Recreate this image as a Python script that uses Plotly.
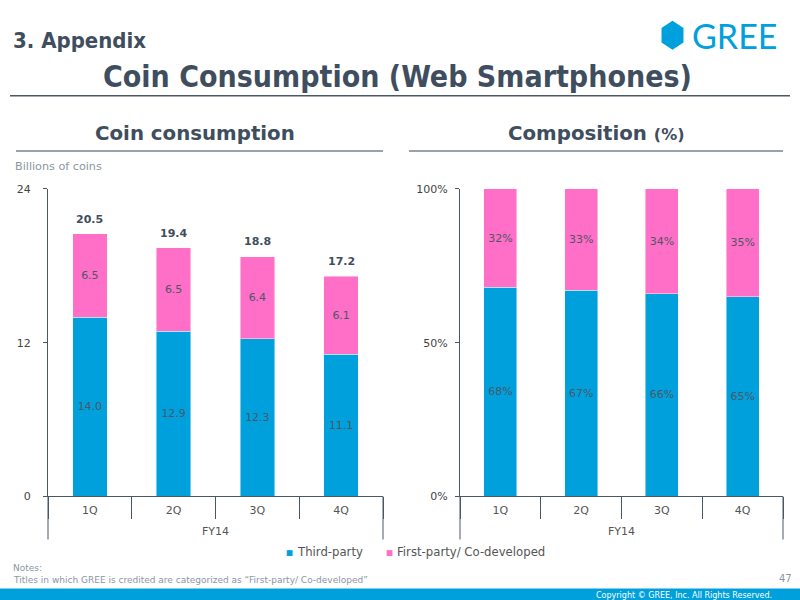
import plotly.graph_objects as go
import math

# ---- data ----
quarters = ["1Q", "2Q", "3Q", "4Q"]
fiscal_year = "FY14"
third_party = [14.0, 12.9, 12.3, 11.1]
first_party = [6.5, 6.5, 6.4, 6.1]
totals = [20.5, 19.4, 18.8, 17.2]
third_pct = [68, 67, 66, 65]
first_pct = [32, 33, 34, 35]
left_ticks = [0, 12, 24]
right_ticks = [0, 50, 100]
right_ticklabels = ["0%", "50%", "100%"]

# ---- style ----
W, H = 800, 614
BLUE = "#00A0DC"
PINK = "#FF6EC7"
DARK = "#3F4E5E"
GRAY = "#8A97A3"
AXIS = "#4A5866"
TXT = "#4B5866"
FONT = "DejaVu Sans, Verdana, sans-serif"
COND = "DejaVu Sans Condensed, DejaVu Sans, sans-serif"

# vertical calibration of the photographed page
Y_OFF, Y_SCALE = 5.25, 0.9775


def px(x):
    return x / W


def py(y):
    return 1 - ((y - Y_OFF) / Y_SCALE) / H


fig = go.Figure()
bar_line = dict(color="rgba(255,255,255,0.45)", width=1)
tfont = dict(family=FONT, size=11, color=TXT)
fig.add_trace(go.Bar(x=quarters, y=third_party, name="Third-party", marker=dict(color=BLUE, line=bar_line),
                     text=[f"{v:.1f}" for v in third_party], textposition="inside", insidetextanchor="middle",
                     textfont=tfont, xaxis="x", yaxis="y", showlegend=False))
fig.add_trace(go.Bar(x=quarters, y=first_party, name="First-party/ Co-developed", marker=dict(color=PINK, line=bar_line),
                     text=[f"{v:.1f}" for v in first_party], textposition="inside", insidetextanchor="middle",
                     textfont=tfont, xaxis="x", yaxis="y", showlegend=False))
fig.add_trace(go.Bar(x=quarters, y=third_pct, name="Third-party", marker=dict(color=BLUE, line=bar_line),
                     text=[f"{v}%" for v in third_pct], textposition="inside", insidetextanchor="middle",
                     textfont=tfont, xaxis="x2", yaxis="y2", showlegend=False))
fig.add_trace(go.Bar(x=quarters, y=first_pct, name="First-party/ Co-developed", marker=dict(color=PINK, line=bar_line),
                     text=[f"{v}%" for v in first_pct], textposition="inside", insidetextanchor="middle",
                     textfont=tfont, xaxis="x2", yaxis="y2", showlegend=False))

xaxis_common = dict(type="category", showline=True, linecolor=AXIS, linewidth=1,
                    ticks="outside", tickson="boundaries", ticklen=21.5, tickcolor=AXIS, tickwidth=1,
                    ticklabelstandoff=3,
                    tickfont=dict(family=FONT, size=11, color="#555555"), showgrid=False, zeroline=False, fixedrange=True)

ydom = [py(495), py(188)]
fig.update_layout(
    width=W, height=H, margin=dict(l=0, r=0, t=0, b=0),
    paper_bgcolor="white", plot_bgcolor="white",
    barmode="stack", bargap=0.59, showlegend=False,
    font=dict(family=FONT),
    xaxis=dict(domain=[px(48), px(383)], **xaxis_common),
    yaxis=dict(domain=ydom, range=[0, 24], tickvals=left_ticks, showline=True, linecolor=AXIS, linewidth=1,
               ticks="outside", ticklen=4, tickcolor=AXIS, ticklabelstandoff=10, showgrid=False, zeroline=False,
               tickfont=dict(family=FONT, size=11, color="#444444"), fixedrange=True),
    xaxis2=dict(domain=[px(460), px(783)], anchor="y2", **xaxis_common),
    yaxis2=dict(domain=ydom, range=[0, 100], tickvals=right_ticks, ticktext=right_ticklabels, anchor="x2",
                showline=True, linecolor=AXIS, linewidth=1, ticks="outside", ticklen=4, tickcolor=AXIS,
                ticklabelstandoff=5, showgrid=False, zeroline=False,
                tickfont=dict(family=FONT, size=11, color="#444444"), fixedrange=True),
)

ann = []
for i, t in enumerate(totals):
    ann.append(dict(x=quarters[i], y=t, xref="x", yref="y", text=f"<b>{t:.1f}</b>", showarrow=False, yanchor="bottom",
                    yshift=6, font=dict(family=FONT, size=11, color=DARK)))
# fiscal-year group labels
for xr in ("x domain", "x2 domain"):
    ann.append(dict(x=0.5, y=py(530), xref=xr, yref="paper", text=fiscal_year, showarrow=False,
                    xanchor="center", yanchor="middle", font=dict(family=FONT, size=11, color="#555555")))


def txt(x, y, text, size, color, xanchor="left", family=FONT):
    shift = {"left": -3, "right": 3, "center": 0}[xanchor]
    ann.append(dict(x=px(x + shift), y=py(y), xref="paper", yref="paper", text=text, showarrow=False,
                    xanchor=xanchor, yanchor="middle", font=dict(family=family, size=size, color=color)))


txt(14, 40, "<b>3. Appendix</b>", 22, DARK, family=COND)
txt(397, 76, "<b>Coin Consumption (Web Smartphones)</b>", 30, DARK, "center", family=COND)
txt(195, 133, "<b>Coin consumption</b>", 19.8, DARK, "center")
txt(596, 133, "<b>Composition <span style='font-size:16px'>(%)</span></b>", 19.8, DARK, "center")
txt(16, 166, "Billions of coins", 11.2, GRAY)
txt(289, 551, "■", 7.5, BLUE, "center")
txt(298, 551, "Third-party", 11.7, "#555555")
txt(389, 551, "■", 7.5, PINK, "center")
txt(398, 551, "First-party/ Co-developed", 11.7, "#555555")
txt(14, 566, "Notes:", 9, GRAY)
txt(14, 578, "Titles in which GREE is credited are categorized as “First-party/ Co-developed”", 9, GRAY)
txt(791, 577, "47", 10, GRAY, "right")
txt(771, 594, "Copyright © GREE, Inc. All Rights Reserved.", 8, "white", "right")
txt(693, 35, "GREE", 34, BLUE, "left", family="Lato, Open Sans, sans-serif")

fig.update_layout(annotations=ann)

shapes = []
shapes.append(dict(type="line", xref="paper", yref="paper", x0=px(10), x1=px(790), y0=py(95), y1=py(95), line=dict(color=AXIS, width=1.5)))
shapes.append(dict(type="line", xref="paper", yref="paper", x0=px(16), x1=px(383), y0=py(150), y1=py(150), line=dict(color="#9AA1A8", width=2)))
shapes.append(dict(type="line", xref="paper", yref="paper", x0=px(409), x1=px(783), y0=py(150), y1=py(150), line=dict(color="#9AA1A8", width=2)))
# outer group dividers of the category axes
for xr in ("x domain", "x2 domain"):
    for xv in (0, 1):
        shapes.append(dict(type="line", xref=xr, yref="paper", x0=xv, x1=xv, y0=py(495), y1=py(538),
                           line=dict(color=AXIS, width=1)))
# footer band
shapes.append(dict(type="rect", xref="paper", yref="paper", x0=0, x1=1, y0=0, y1=py(587), fillcolor=BLUE, line=dict(width=0), layer="below"))
# logo hexagon
cx, cy, rx, ry = 672.5, 34.5, 11, 14.5
pts = []
for k in range(6):
    a = math.radians(90 + 60 * k)
    pts.append((px(cx + rx * math.cos(a) / math.cos(math.radians(30))), py(cy - ry * math.sin(a))))
path = "M " + " L ".join(f"{x:.5f},{y:.5f}" for x, y in pts) + " Z"
shapes.append(dict(type="path", xref="paper", yref="paper", path=path, fillcolor=BLUE, line=dict(width=0)))
fig.update_layout(shapes=shapes)

fig.write_html("out.html")
